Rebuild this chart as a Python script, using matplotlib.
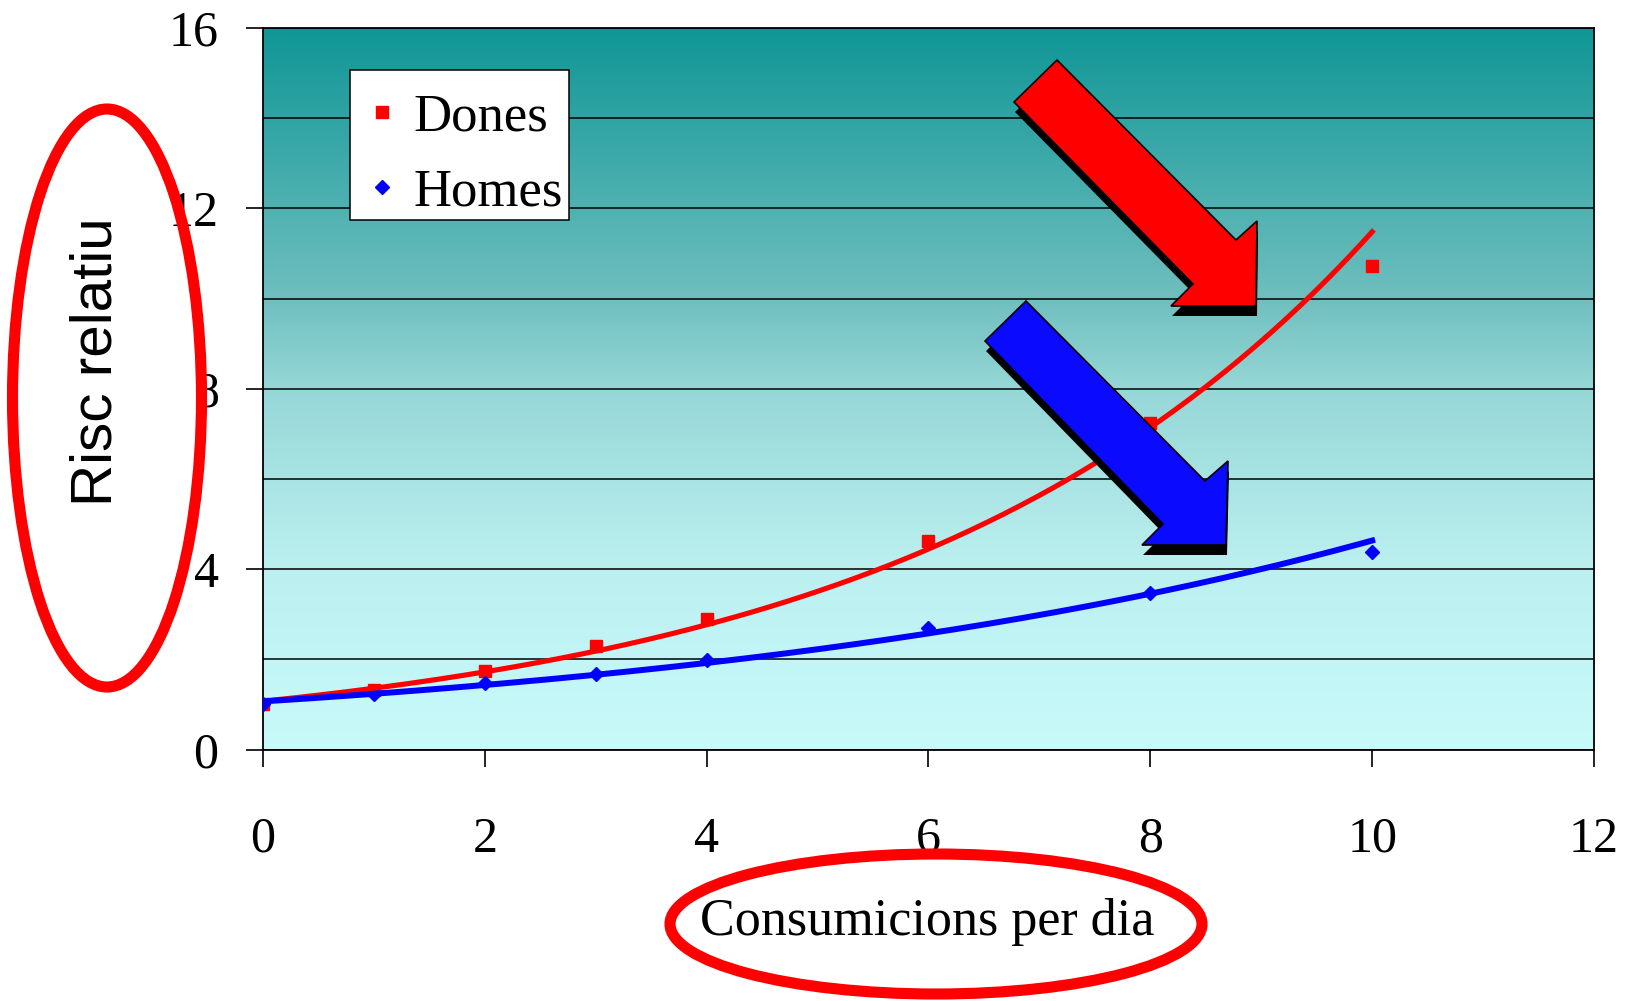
import numpy as np
import matplotlib
matplotlib.use("Agg")
import matplotlib.pyplot as plt
from matplotlib.colors import LinearSegmentedColormap
from matplotlib.patches import Ellipse, Polygon, Rectangle

# dades llegides del grafic
consumicions = [0, 1, 2, 3, 4, 6, 8, 10]
risc_dones = [1.0, 1.33, 1.73, 2.3, 2.9, 4.63, 7.24, 10.72]
risc_homes = [1.0, 1.22, 1.48, 1.68, 1.98, 2.7, 3.48, 4.38]

x_ticks = [0, 2, 4, 6, 8, 10, 12]
y_ticks = [0, 4, 8, 12, 16]
y_minor = [2, 6, 10, 14]

W, H = 1630, 1001
plt.rcParams["font.family"] = ["Liberation Serif", "DejaVu Serif"]


def fpos(px, py):
    """pixel (des de dalt a l'esquerra) -> fraccio de figura"""
    return (px / W, 1 - py / H)


def exp_fit(x, y):
    """linia de tendencia exponencial, com la d'Excel"""
    b, a = np.polyfit(x, np.log(y), 1)
    xs = np.linspace(min(x), max(x), 200)
    return xs, np.exp(a) * np.exp(b * xs)


fig = plt.figure(figsize=(W / 100, H / 100), dpi=100)
ax = fig.add_axes([263 / W, 1 - 749.5 / H, (1594 - 263) / W, (749.5 - 28) / H])

# fons amb degradat
stops = [(0.0, "#C8FAFA"), (0.25, "#BCF0F0"), (0.5, "#96D7D7"),
         (0.625, "#70BFBF"), (1.0, "#109696")]
cmap = LinearSegmentedColormap.from_list("fons", stops)
grad = np.linspace(0, 1, 256).reshape(-1, 1)
ax.imshow(grad, extent=[0, 12, 0, 16], origin="lower", aspect="auto",
          cmap=cmap, zorder=0)

ax.plot(consumicions, risc_dones, "s", color="red", ms=8.5, label="Dones", zorder=3)
ax.plot(consumicions, risc_homes, "D", color="blue", ms=7.5, label="Homes", zorder=3)

xs, ys = exp_fit(consumicions, risc_dones)
ax.plot(xs, ys, color="red", lw=3.7, zorder=4)
xs, ys = exp_fit(consumicions, risc_homes)
ax.plot(xs, ys, color="blue", lw=4.3, zorder=4)

ax.set_xlim(0, 12)
ax.set_ylim(0, 16)
ax.set_xticks(x_ticks)
ax.set_yticks(y_ticks)
ax.set_yticks(y_minor, minor=True)
ax.grid(True, which="both", axis="y", color="black", lw=1.1)
ax.tick_params(which="major", direction="out", length=12, width=1.2,
               labelsize=36, color="black")
ax.tick_params(axis="x", pad=36)
ax.tick_params(axis="y", pad=20)
ax.tick_params(which="minor", length=0)
for s in ax.spines.values():
    s.set_linewidth(1.3)

# requadre de la llegenda (dibuixat a part per posar el text on toca)
ax.add_patch(Rectangle(((350 - 263) / 1331, (749.5 - 220) / 721.5),
                       219 / 1331, 150 / 721.5, transform=ax.transAxes,
                       fc="white", ec="black", lw=1.1, zorder=5))
leg = ax.legend(loc="upper left",
                bbox_to_anchor=((350 - 263) / 1331, (749.5 - 70) / 721.5),
                borderaxespad=0, fontsize=38, frameon=False,
                handlelength=0.3, handletextpad=0.46,
                borderpad=0.45, labelspacing=0.5)
leg.set_zorder(6)

# etiquetes dels eixos amb els cercles vermells
fig.text(*fpos(96, 362), "Risc relatiu", rotation=90, fontsize=42,
         family=["Liberation Sans", "DejaVu Sans"], ha="center", va="center")
fig.text(*fpos(927, 922), "Consumicions per dia", fontsize=37.5,
         ha="center", va="center")
fig.add_artist(Ellipse(fpos(107, 398), 189 / W, 578 / H, transform=fig.transFigure,
                       fill=False, ec="red", lw=8, zorder=5))
fig.add_artist(Ellipse(fpos(936, 924), 532 / W, 140 / H, transform=fig.transFigure,
                       fill=False, ec="red", lw=8, zorder=5))

# fletxes
red_arrow = [(1057, 60), (1236, 240), (1257, 221), (1256, 306),
             (1171, 306), (1193, 284), (1014, 102)]
blue_arrow = [(1026, 301), (1205, 481), (1228, 461), (1226, 545),
              (1142, 545), (1163, 524), (985, 341)]
for pts, col in [(red_arrow, "red"), (blue_arrow, "#0A0AFF")]:
    fig.add_artist(Polygon([fpos(x + 1, y + 10) for x, y in pts], closed=True,
                           transform=fig.transFigure, fc="black", ec="none", zorder=6))
    fig.add_artist(Polygon([fpos(x, y) for x, y in pts], closed=True,
                           transform=fig.transFigure, fc=col, ec="black", lw=1.2, zorder=7))

fig.savefig("out.png", dpi=100)
plt.close(fig)
